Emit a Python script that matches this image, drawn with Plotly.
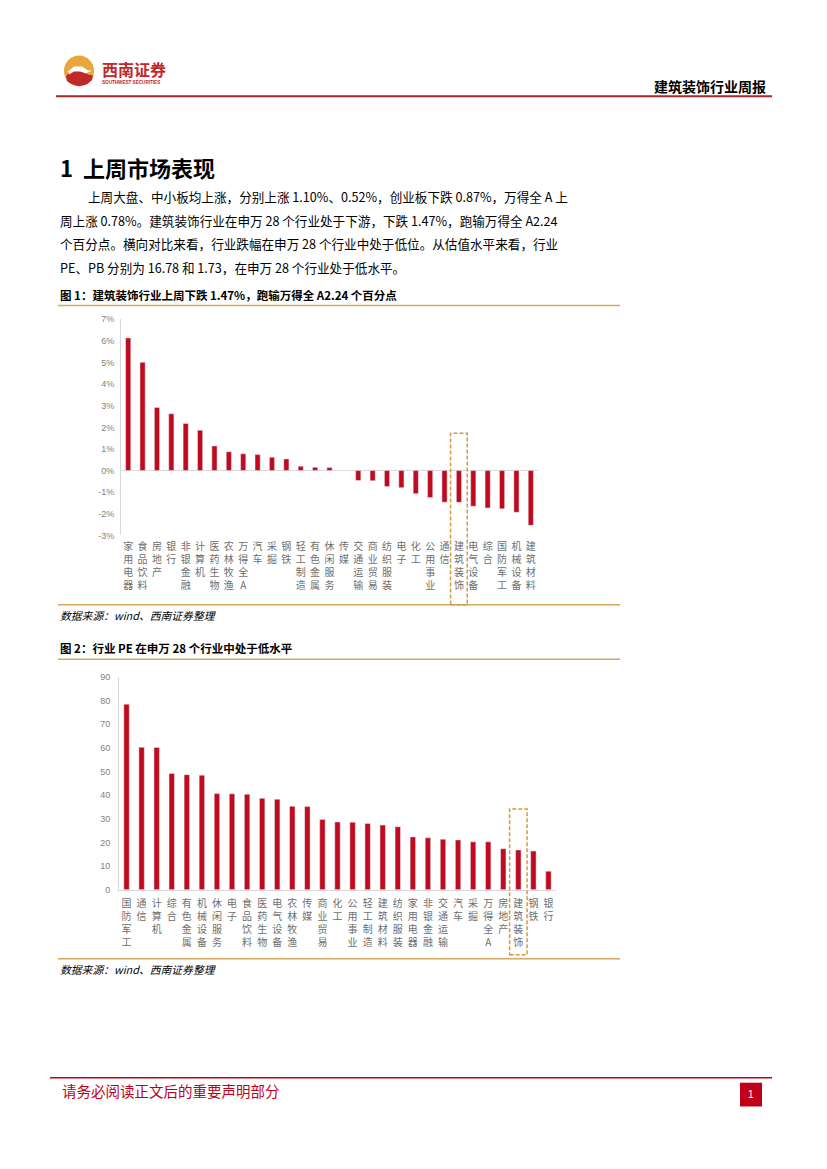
import plotly.graph_objects as go

W, H = 827, 1169
FONT = "Noto Sans CJK SC"

# ---------------- data ----------------
cat1 = ["家用电器", "食品饮料", "房地产", "银行", "非银金融", "计算机", "医药生物", "农林牧渔",
        "万得全A", "汽车", "采掘", "钢铁", "轻工制造", "有色金属", "休闲服务", "传媒",
        "交通运输", "商业贸易", "纺织服装", "电子", "化工", "公用事业", "通信", "建筑装饰",
        "电气设备", "综合", "国防军工", "机械设备", "建筑材料"]
chg1 = [6.14, 5.01, 2.92, 2.63, 2.18, 1.87, 1.14, 0.87,
        0.78, 0.74, 0.62, 0.54, 0.20, 0.15, 0.14, 0.0,
        -0.46, -0.47, -0.74, -0.79, -1.07, -1.25, -1.46, -1.47,
        -1.65, -1.73, -1.77, -1.93, -2.53]
y1_ticks = [-3, -2, -1, 0, 1, 2, 3, 4, 5, 6, 7]
y1_labels = ["-3%", "-2%", "-1%", "0%", "1%", "2%", "3%", "4%", "5%", "6%", "7%"]

cat2 = ["国防军工", "通信", "计算机", "综合", "有色金属", "机械设备", "休闲服务", "电子",
        "食品饮料", "医药生物", "电气设备", "农林牧渔", "传媒", "商业贸易", "化工", "公用事业",
        "轻工制造", "建筑材料", "纺织服装", "家用电器", "非银金融", "交通运输", "汽车", "采掘",
        "万得全A", "房地产", "建筑装饰", "钢铁", "银行"]
pe2 = [78.4, 60.2, 60.1, 49.1, 48.6, 48.4, 40.6, 40.5,
       40.3, 38.6, 38.2, 35.2, 35.1, 29.7, 28.6, 28.5,
       28.0, 27.3, 26.6, 22.3, 21.9, 21.3, 21.0, 20.2,
       20.2, 17.3, 16.78, 16.3, 7.8]
y2_ticks = [0, 10, 20, 30, 40, 50, 60, 70, 80, 90]
y2_labels = ["0", "10", "20", "30", "40", "50", "60", "70", "80", "90"]

highlight = "建筑装饰"

# ---------------- helpers ----------------
def px(x):
    return x / W

def py(y):
    return 1 - y / H

def vert(s):
    return "<br>".join(list(s))

RED = "#C00A1E"
GOLD = "#D6A660"
GRAY = "#7F7F7F"

fig = go.Figure()
fig.add_trace(go.Bar(x=cat1, y=chg1, marker_color=RED, xaxis="x", yaxis="y",
                     showlegend=False, hoverinfo="x+y"))
fig.add_trace(go.Bar(x=cat2, y=pe2, marker_color=RED, xaxis="x2", yaxis="y2",
                     showlegend=False, hoverinfo="x+y"))

axis_common = dict(showgrid=False, ticks="", fixedrange=True)

fig.update_layout(
    width=W, height=H,
    margin=dict(l=0, r=0, t=0, b=0),
    paper_bgcolor="white", plot_bgcolor="white",
    bargap=0.64,
    font=dict(family=FONT, color="#000"),
    xaxis=dict(domain=[px(121), px(538)], anchor="y", type="category",
               tickvals=cat1, ticktext=[vert(c) for c in cat1],
               tickfont=dict(size=10, color="#6E6E6E", family=FONT),
               showline=False, zeroline=False, ticklabelstandoff=4, **axis_common),
    yaxis=dict(domain=[py(535), py(317)], anchor="x", range=[-3, 7],
               tickvals=y1_ticks, ticktext=y1_labels,
               tickfont=dict(size=9, color=GRAY, family="Liberation Sans"),
               showline=True, linecolor="#D9D9D9", linewidth=1,
               zeroline=True, zerolinecolor="#D9D9D9", zerolinewidth=1,
               ticklabelstandoff=4, **axis_common),
    xaxis2=dict(domain=[px(119), px(556)], anchor="y2", type="category",
                tickvals=cat2, ticktext=[vert(c) for c in cat2],
                tickfont=dict(size=10, color="#6E6E6E", family=FONT),
                showline=True, linecolor="#D9D9D9", linewidth=1, zeroline=False,
                ticklabelstandoff=4, **axis_common),
    yaxis2=dict(domain=[py(892.3), py(677.5)], anchor="x2", range=[0, 90],
                tickvals=y2_ticks, ticktext=y2_labels,
                tickfont=dict(size=9, color=GRAY, family="Liberation Sans"),
                showline=True, linecolor="#D9D9D9", linewidth=1, zeroline=False,
                ticklabelstandoff=6, **axis_common),
)

shapes = []
# header line
shapes.append(dict(type="line", xref="paper", yref="paper", x0=px(56), x1=px(772),
                   y0=py(92), y1=py(92), line=dict(color="#A8262C", width=2)))
# chart frames (gold lines)
for yy in (303, 605, 660, 962):
    shapes.append(dict(type="line", xref="paper", yref="paper", x0=px(58), x1=px(620),
                       y0=py(yy), y1=py(yy), line=dict(color=GOLD, width=1.5)))
# highlight boxes
i1 = cat1.index(highlight)
shapes.append(dict(type="rect", xref="x", yref="paper", x0=i1 - 0.58, x1=i1 + 0.58,
                   y0=py(605), y1=py(432),
                   line=dict(color="#D09A45", width=1.5, dash="4px,2px")))
i2 = cat2.index(highlight)
shapes.append(dict(type="rect", xref="x2", yref="paper", x0=i2 - 0.58, x1=i2 + 0.58,
                   y0=py(958), y1=py(811),
                   line=dict(color="#D09A45", width=1.5, dash="4px,2px")))
# footer line
shapes.append(dict(type="line", xref="paper", yref="paper", x0=px(50), x1=px(772),
                   y0=py(1082), y1=py(1082), line=dict(color="#C0001A", width=1.5)))
# page number box
shapes.append(dict(type="rect", xref="paper", yref="paper", x0=px(740), x1=px(762),
                   y0=py(1111), y1=py(1087), fillcolor="#C0001A", line=dict(width=0)))
# logo
shapes.append(dict(type="circle", xref="paper", yref="paper", x0=px(64), x1=px(94),
                   y0=py(82), y1=py(51), fillcolor="#E9A73B", line=dict(width=0)))
def pth(pts):
    return "M " + " L ".join(f"{px(a):.5f},{py(b):.5f}" for a, b in pts) + " Z"
shapes.append(dict(type="path", xref="paper", yref="paper",
                   path=pth([(66, 72), (70, 66), (76, 64), (83, 66), (88, 70), (93, 71),
                             (92, 76), (87, 80), (79, 82), (72, 80), (67, 77)]),
                   fillcolor="#C0282A", line=dict(width=0)))
shapes.append(dict(type="path", xref="paper", yref="paper",
                   path=pth([(68, 67), (74, 62), (82, 62), (88, 66), (92, 66), (86, 69),
                             (80, 67), (74, 67), (69, 70)]),
                   fillcolor="white", line=dict(width=0)))
fig.update_layout(shapes=shapes)

ann = []
def txt(x, y, s, size, color="#000", anchor="left", family=FONT):
    ann.append(dict(x=px(x), y=py(y), xref="paper", yref="paper", text=s, showarrow=False,
                    xanchor=anchor, yanchor="middle",
                    font=dict(size=size, color=color, family=family)))

txt(100, 65, "<b>西南证券</b>", 16, color="#C0282A")
txt(100, 78, "<b>SOUTHWEST SECURITIES</b>", 4.6, color="#C0282A", family="Liberation Sans")
txt(768, 82, "<b>建筑装饰行业周报</b>", 14, anchor="right")

txt(58, 163, "<b>1  上周市场表现</b>", 22)
BODY = 12.6
txt(86, 193, "上周大盘、中小板均上涨，分别上涨 1.10%、0.52%，创业板下跌 0.87%，万得全 A 上", BODY)
txt(58, 217, "周上涨 0.78%。建筑装饰行业在申万 28 个行业处于下游，下跌 1.47%，跑输万得全 A2.24", BODY)
txt(58, 241, "个百分点。横向对比来看，行业跌幅在申万 28 个行业中处于低位。从估值水平来看，行业", BODY)
txt(58, 265, "PE、PB 分别为 16.78 和 1.73，在申万 28 个行业处于低水平。", BODY)

txt(58, 293, "<b>图 1：建筑装饰行业上周下跌 1.47%，跑输万得全 A2.24 个百分点</b>", 11.5)
txt(58, 615, "<i>数据来源：wind、西南证券整理</i>", 10.8)
txt(58, 649, "<b>图 2：行业 PE 在申万 28 个行业中处于低水平</b>", 11.5)
txt(58, 972, "<i>数据来源：wind、西南证券整理</i>", 10.8)

txt(60, 1095, "请务必阅读正文后的重要声明部分", 14.5, color="#C0001A")
txt(751, 1099, "1", 10, color="white", anchor="center", family="Liberation Sans")

fig.update_layout(annotations=ann)
fig.write_html("out.html",
               config={"displayModeBar": False},
               post_script="document.body.style.margin='0';document.body.style.overflow='hidden';")
